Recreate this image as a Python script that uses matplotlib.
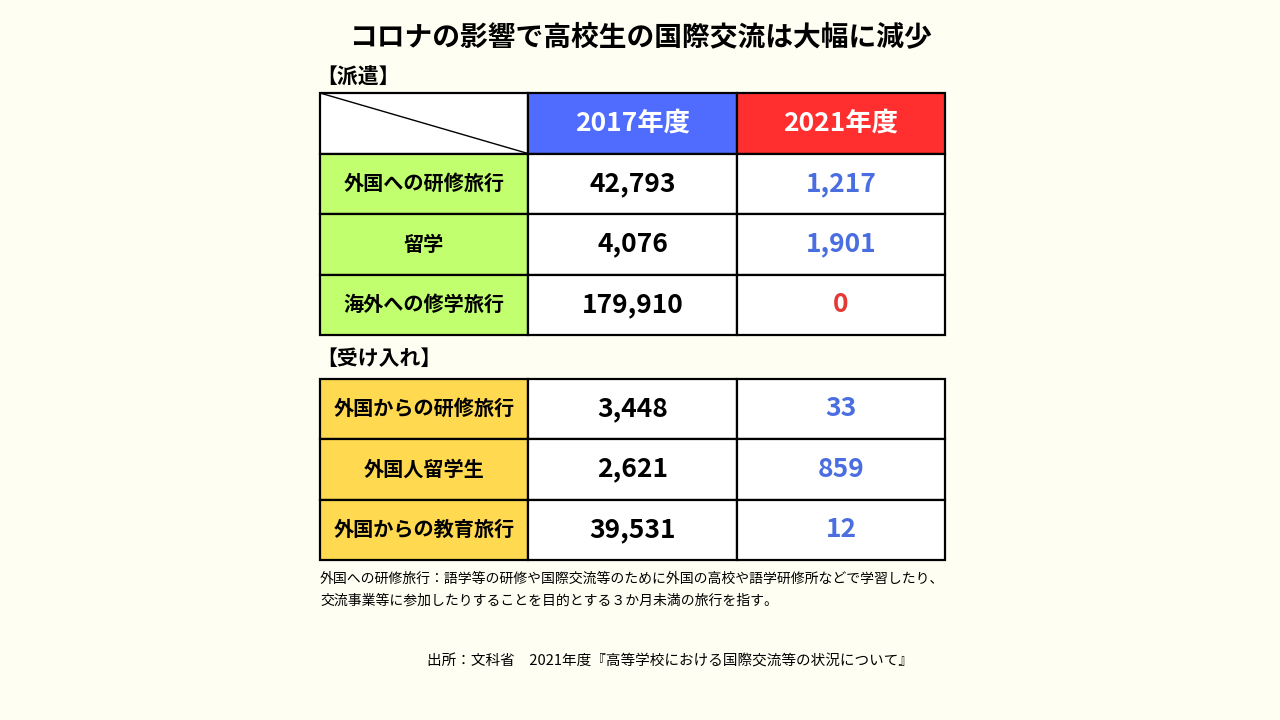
import matplotlib.pyplot as plt
from matplotlib.patches import Rectangle

plt.rcParams['font.family'] = 'Noto Sans CJK JP'

title = 'コロナの影響で高校生の国際交流は大幅に減少'
years = ['2017年度', '2021年度']
send_labels = ['外国への研修旅行', '留学', '海外への修学旅行']
send_2017 = ['42,793', '4,076', '179,910']
send_2021 = ['1,217', '1,901', '0']
recv_labels = ['外国からの研修旅行', '外国人留学生', '外国からの教育旅行']
recv_2017 = ['3,448', '2,621', '39,531']
recv_2021 = ['33', '859', '12']
note = ('外国への研修旅行：語学等の研修や国際交流等のために外国の高校や語学研修所などで学習したり、\n'
        '交流事業等に参加したりすることを目的とする３か月未満の旅行を指す。')
source = '出所：文科省　2021年度『高等学校における国際交流等の状況について』'

BG = '#FFFEF3'
BLUE_TXT = '#4A6EE0'
RED_TXT = '#E53935'

fig = plt.figure(figsize=(12.8, 7.2), dpi=100, facecolor=BG)
ax = fig.add_axes([0, 0, 1, 1])
ax.set_xlim(0, 1280)
ax.set_ylim(720, 0)
ax.axis('off')

cols = [320, 528, 737, 945]
row_h = 60.5


def cell(x0, x1, y0, y1, fc):
    ax.add_patch(Rectangle((x0, y0), x1 - x0, y1 - y0, facecolor=fc,
                           edgecolor='black', linewidth=1.6))


def table(top, labels, v17, v21, label_fc, header):
    y = top
    if header:
        cell(cols[0], cols[1], y, y + row_h, 'white')
        ax.plot([cols[0], cols[1]], [y, y + row_h], color='black', lw=1)
        for i, (yr, fc) in enumerate(zip(years, ['#4F6CFF', '#FF2F2F'])):
            cell(cols[i + 1], cols[i + 2], y, y + row_h, fc)
            ax.text((cols[i + 1] + cols[i + 2]) / 2, y + row_h / 2, yr,
                    color='white', fontsize=19, fontweight='bold',
                    ha='center', va='center')
        y += row_h
    for lab, a, b in zip(labels, v17, v21):
        cell(cols[0], cols[1], y, y + row_h, label_fc)
        cell(cols[1], cols[2], y, y + row_h, 'white')
        cell(cols[2], cols[3], y, y + row_h, 'white')
        ax.text((cols[0] + cols[1]) / 2, y + row_h / 2, lab, fontsize=14.5,
                fontweight='bold', ha='center', va='center')
        ax.text((cols[1] + cols[2]) / 2, y + row_h / 2, a, fontsize=19,
                fontweight='bold', ha='center', va='center')
        ax.text((cols[2] + cols[3]) / 2, y + row_h / 2, b, fontsize=19,
                fontweight='bold', ha='center', va='center',
                color=RED_TXT if b == '0' else BLUE_TXT)
        y += row_h


ax.text(640, 37, title, fontsize=20, fontweight='bold', ha='center', va='center')
ax.text(316, 77, '【派遣】', fontsize=15, fontweight='bold', ha='left', va='center')
table(93, send_labels, send_2017, send_2021, '#C2FF6E', True)
ax.text(316, 358, '【受け入れ】', fontsize=15, fontweight='bold', ha='left', va='center')
table(378.5, recv_labels, recv_2017, recv_2021, '#FFD94F', False)
ax.text(320, 590, note, fontsize=10, ha='left', va='center', linespacing=1.7)
ax.text(670, 661, source, fontsize=10.5, ha='center', va='center')

fig.savefig('out.png', dpi=100, facecolor=BG)
